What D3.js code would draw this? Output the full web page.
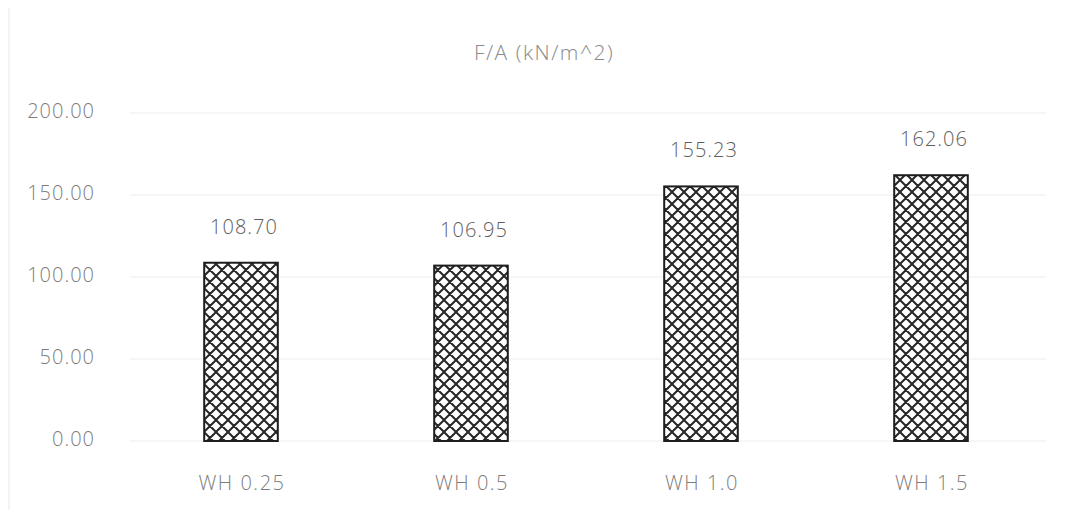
<!DOCTYPE html>
<html>
<head>
<meta charset="utf-8">
<script src="https://cdn.jsdelivr.net/npm/d3@7"></script>
<style>
  html, body { margin: 0; padding: 0; background: #fff; }
  svg { display: block; }
</style>
</head>
<body>
<svg id="chart" width="1067" height="518"></svg>
<script>
// Chart data
const categories = ["WH 0.25", "WH 0.5", "WH 1.0", "WH 1.5"];
const values = [108.70, 106.95, 155.23, 162.06];
const yTicks = [0, 50, 100, 150, 200];
const title = "F/A (kN/m^2)";

const W = 1067, H = 518;
const margin = { left: 126, right: 21, top: 113, bottom: 77 };
const svg = d3.select("#chart");
const font = "'Open Sans', Lato, sans-serif";
const textColor = "#7d7d7d";

// Crosshatch fill for the bars
const P = 12;
const defs = svg.append("defs");
const pat = defs.append("pattern")
  .attr("id", "hatch")
  .attr("patternUnits", "userSpaceOnUse")
  .attr("width", P).attr("height", P);
pat.append("rect").attr("width", P).attr("height", P).attr("fill", "#fff");
pat.append("path")
  .attr("d", `M0,0 L${P},${P} M${P},0 L0,${P} M-2,${P-2} L2,${P+2} M${P-2},-2 L${P+2},2 M-2,2 L2,-2 M${P-2},${P+2} L${P+2},${P-2}`)
  .attr("stroke", "#262626").attr("stroke-width", 2);

// Faint outer frame line on the left
svg.append("line")
  .attr("x1", 9).attr("x2", 9).attr("y1", 8).attr("y2", 510)
  .attr("stroke", "#f0f0f0").attr("stroke-width", 1.5);

const x = d3.scaleBand()
  .domain(categories)
  .range([margin.left, W - margin.right])
  .paddingInner(0.68).paddingOuter(0.34);

const y = d3.scaleLinear()
  .domain([0, 200])
  .range([H - margin.bottom, margin.top]);

// Gridlines
svg.append("g")
  .selectAll("line")
  .data(yTicks)
  .join("line")
  .attr("x1", margin.left + 4).attr("x2", W - margin.right)
  .attr("y1", d => y(d)).attr("y2", d => y(d))
  .attr("stroke", "#ededed").attr("stroke-width", 1);

// Y axis labels
const yAxis = d3.axisLeft(y).tickValues(yTicks).tickFormat(d3.format(".2f")).tickSize(0).tickPadding(0);
const ya = svg.append("g").attr("transform", `translate(95,-3)`).call(yAxis);
ya.select(".domain").remove();
ya.selectAll("text")
  .attr("font-family", font).attr("font-weight", 300).attr("font-size", 20).attr("fill", textColor)
  .attr("letter-spacing", 1)
  .attr("dy", "0.35em");

// X axis labels
const xAxis = d3.axisBottom(x).tickSize(0).tickPadding(0);
const xa = svg.append("g").attr("transform", `translate(1,${H - margin.bottom + 42})`).call(xAxis);
xa.select(".domain").remove();
xa.selectAll("text")
  .attr("font-family", font).attr("font-weight", 300).attr("font-size", 20).attr("fill", textColor)
  .attr("letter-spacing", 1.5)
  .attr("dy", "0.35em");

// Bars
svg.append("g")
  .selectAll("rect")
  .data(values)
  .join("rect")
  .attr("x", (d, i) => x(categories[i]))
  .attr("y", d => y(d))
  .attr("width", x.bandwidth())
  .attr("height", d => y(0) - y(d))
  .attr("fill", "url(#hatch)")
  .attr("stroke", "#1e1e1e").attr("stroke-width", 2);

// Value labels
svg.append("g")
  .selectAll("text")
  .data(values)
  .join("text")
  .attr("x", (d, i) => x(categories[i]) + x.bandwidth() / 2 + 3)
  .attr("y", d => y(d) - 36)
  .attr("dy", "0.35em")
  .attr("text-anchor", "middle")
  .attr("font-family", font).attr("font-weight", 300).attr("font-size", 20).attr("fill", "#5e5e5e")
  .attr("letter-spacing", 1)
  .text(d => d3.format(".2f")(d));

// Title
svg.append("text")
  .attr("x", 544).attr("y", 53)
  .attr("dy", "0.35em")
  .attr("text-anchor", "middle")
  .attr("font-family", font).attr("font-weight", 300).attr("font-size", 21).attr("fill", "#8a8a8a")
  .attr("letter-spacing", 1.5)
  .text(title);
</script>
</body>
</html>
